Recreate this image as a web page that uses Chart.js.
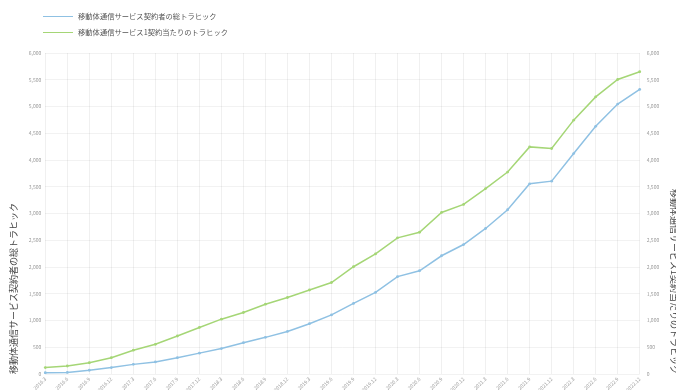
<!DOCTYPE html>
<html lang="ja">
<head>
<meta charset="utf-8">
<script src="https://cdn.jsdelivr.net/npm/chart.js@4/dist/chart.umd.min.js"></script>
<style>
  html, body { margin: 0; padding: 0; background: #fff; }
  #wrap { position: relative; width: 676px; height: 390px; overflow: hidden; }
  #legend { position: absolute; left: 43px; top: 8px; font: 7.3px "Noto Sans CJK JP", sans-serif; color: #555; }
  .item { display: flex; align-items: center; height: 16px; white-space: nowrap; }
  .swatch { width: 30px; height: 0; border-top: 1.5px solid; margin-right: 5px; }
</style>
</head>
<body>
<div id="wrap">
  <canvas id="c" width="676" height="390"></canvas>
  <div id="legend"></div>
</div>
<script>
// 四半期ごとの集計時点
const categories = [
  '2016.3', '2016.6', '2016.9', '2016.12',
  '2017.3', '2017.6', '2017.9', '2017.12',
  '2018.3', '2018.6', '2018.9', '2018.12',
  '2019.3', '2019.6', '2019.9', '2019.12',
  '2020.3', '2020.6', '2020.9', '2020.12',
  '2021.3', '2021.6', '2021.9', '2021.12',
  '2022.3', '2022.6', '2022.9', '2022.12'
];

// 移動体通信サービス契約者の総トラヒック（左軸）
const totalTraffic = [
  25, 30, 70, 120, 180, 225, 305, 390, 475, 585,
  685, 795, 940, 1105, 1320, 1525, 1820, 1930, 2210, 2420,
  2720, 3070, 3555, 3605, 4120, 4630, 5045, 5320
];

// 移動体通信サービス1契約当たりのトラヒック（右軸）
const perContractTraffic = [
  120, 150, 210, 305, 445, 555, 710, 870, 1025, 1150,
  1305, 1430, 1570, 1710, 2005, 2245, 2545, 2650, 3020, 3170,
  3465, 3775, 4245, 4215, 4745, 5180, 5505, 5650
];

// 軸の目盛り
const axisMin = 0;
const axisMax = 6000;
const axisStep = 500;

const seriesNames = [
  '移動体通信サービス契約者の総トラヒック',
  '移動体通信サービス1契約当たりのトラヒック'
];
const seriesColors = ['#8fc1e3', '#a5d676'];

const FONT = '"Noto Sans CJK JP", "Noto Sans", sans-serif';

// 凡例（2行）
const legendEl = document.getElementById('legend');
seriesNames.forEach((name, i) => {
  const row = document.createElement('div');
  row.className = 'item';
  const sw = document.createElement('span');
  sw.className = 'swatch';
  sw.style.borderTopColor = seriesColors[i];
  const label = document.createElement('span');
  label.textContent = name;
  row.appendChild(sw);
  row.appendChild(label);
  legendEl.appendChild(row);
});

const tickFont = { family: FONT, size: 5 };
const titleFont = { family: FONT, size: 9 };

new Chart(document.getElementById('c'), {
  type: 'line',
  data: {
    labels: categories,
    datasets: [
      {
        label: seriesNames[0],
        data: totalTraffic,
        yAxisID: 'y',
        borderColor: seriesColors[0],
        backgroundColor: seriesColors[0],
        borderWidth: 1.5,
        pointRadius: 1.4,
        pointBorderWidth: 0,
        tension: 0
      },
      {
        label: seriesNames[1],
        data: perContractTraffic,
        yAxisID: 'y1',
        borderColor: seriesColors[1],
        backgroundColor: seriesColors[1],
        borderWidth: 1.5,
        pointRadius: 1.4,
        pointBorderWidth: 0,
        tension: 0
      }
    ]
  },
  options: {
    responsive: false,
    animation: false,
    devicePixelRatio: 1,
    layout: { padding: { top: 53, left: 0, right: -4, bottom: -5 } },
    plugins: {
      legend: { display: false },
      tooltip: { enabled: false }
    },
    scales: {
      x: {
        grid: { color: 'rgba(0,0,0,0.06)', drawTicks: false },
        border: { display: false },
        ticks: {
          font: tickFont,
          color: '#999',
          minRotation: 45,
          maxRotation: 45,
          autoSkip: false,
          padding: 2
        }
      },
      y: {
        position: 'left',
        min: axisMin,
        max: axisMax,
        grid: { color: 'rgba(0,0,0,0.05)', drawTicks: false },
        border: { display: false },
        ticks: {
          stepSize: axisStep,
          font: tickFont,
          color: '#999',
          padding: 4,
          callback: v => v.toLocaleString('en-US')
        },
        title: {
          display: true,
          text: seriesNames[0],
          align: 'start',
          color: '#444',
          font: titleFont,
          padding: { top: 8, bottom: 6 }
        }
      },
      y1: {
        position: 'right',
        min: axisMin,
        max: axisMax,
        grid: { drawOnChartArea: false, drawTicks: false },
        border: { display: false },
        ticks: {
          stepSize: axisStep,
          font: tickFont,
          color: '#999',
          padding: 7,
          callback: v => v.toLocaleString('en-US')
        },
        title: {
          display: true,
          text: seriesNames[1],
          align: 'start',
          color: '#444',
          font: titleFont,
          padding: { top: 0, bottom: 3 }
        }
      }
    }
  }
});
</script>
</body>
</html>
